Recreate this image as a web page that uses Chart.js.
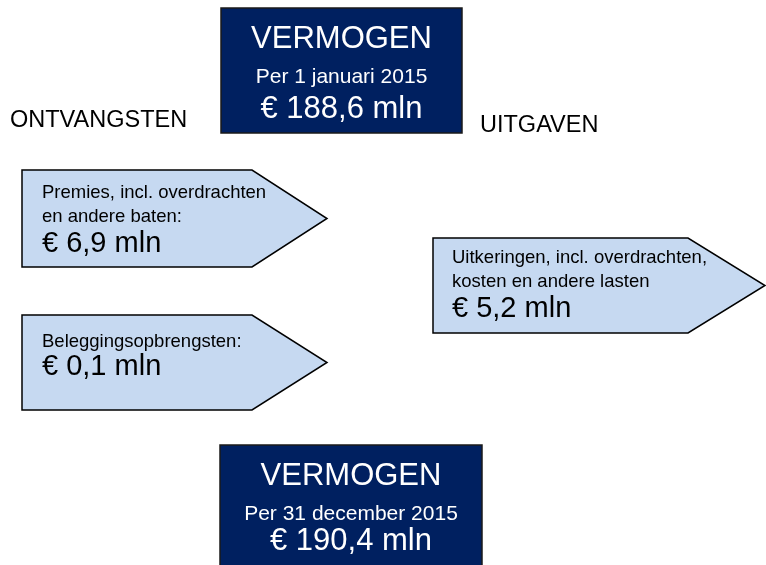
<!DOCTYPE html>
<html>
<head>
<meta charset="utf-8">
<script src="https://cdn.jsdelivr.net/npm/chart.js@4/dist/chart.umd.min.js"></script>
<style>
	html, body { margin: 0; padding: 0; background: #ffffff; }
	#wrap { width: 766px; height: 565px; position: relative; }
</style>
</head>
<body>
<div id="wrap"><canvas id="canvaVermogen"></canvas></div>
<script>
//main Data
//* Vermogen begin en eind
const vermogenTitel = "VERMOGEN";
const vermogenDatums = ["Per 1 januari 2015", "Per 31 december 2015"];
const vermogenWaarden = [188.6, 190.4];
//* Stromen (ontvangsten en uitgaven)
const stroomLabels = [
	["Premies, incl. overdrachten", "en andere baten:"],
	["Beleggingsopbrengsten:"],
	["Uitkeringen, incl. overdrachten,", "kosten en andere lasten"],
];
const stroomWaarden = [6.9, 0.1, 5.2];
//* Kopjes
const kopjes = ["ONTVANGSTEN", "UITGAVEN"];

//main Layout (in eenheden van de assen)
const vermogenBoxen = [
	{ x0: 221, x1: 462, y0: 8, y1: 133, tTitel: 48, tDatum: 83, tWaarde: 118 },
	{ x0: 220, x1: 482, y0: 445, y1: 580, tTitel: 485, tDatum: 520, tWaarde: 550 },
];
const pijlen = [
	{ x0: 22, x1: 252, tip: 327, y0: 170, y1: 267, tx: 42, regels: [198, 222], tWaarde: 252 },
	{ x0: 22, x1: 252, tip: 327, y0: 315, y1: 410, tx: 42, regels: [347], tWaarde: 375 },
	{ x0: 433, x1: 688, tip: 765, y0: 238, y1: 333, tx: 452, regels: [263, 287], tWaarde: 317 },
];
const kopjePos = [
	{ x: 10, y: 127 },
	{ x: 480, y: 132 },
];

//* Kleuren en fonts
const navy = "#002060";
const lichtBlauw = "#c6d9f1";
const fontFam = "'Liberation Sans', Arial, sans-serif";

//funcion Formatteer bedrag
const mln = (v) => "€ " + v.toFixed(1).replace(".", ",") + " mln";

//* Plugin die de vormen tekent via de schalen
const schemaPlugin = {
	id: "schema",
	afterDatasetsDraw(chart) {
		const c = chart.ctx;
		const sx = chart.scales.x;
		const sy = chart.scales.y;
		const px = (v) => sx.getPixelForValue(v);
		const py = (v) => sy.getPixelForValue(v);
		c.save();
		//* Kopjes
		c.fillStyle = "#000000";
		c.textAlign = "left";
		c.textBaseline = "alphabetic";
		c.font = "23.5px " + fontFam;
		kopjes.forEach((k, i) => {
			c.fillText(k, px(kopjePos[i].x), py(kopjePos[i].y));
		});
		//* Vermogen boxen
		vermogenBoxen.forEach((b, i) => {
			const x0 = px(b.x0), x1 = px(b.x1), y0 = py(b.y0), y1 = py(b.y1);
			c.fillStyle = navy;
			c.fillRect(x0, y0, x1 - x0, y1 - y0);
			c.strokeStyle = "#1a1a1a";
			c.lineWidth = 1.5;
			c.strokeRect(x0, y0, x1 - x0, y1 - y0);
			const cx = (x0 + x1) / 2;
			c.fillStyle = "#ffffff";
			c.textAlign = "center";
			c.font = "31px " + fontFam;
			c.fillText(vermogenTitel, cx, py(b.tTitel));
			c.font = "21px " + fontFam;
			c.fillText(vermogenDatums[i], cx, py(b.tDatum));
			c.font = "31px " + fontFam;
			c.fillText(mln(vermogenWaarden[i]), cx, py(b.tWaarde));
		});
		//* Pijlen
		pijlen.forEach((p, i) => {
			const x0 = px(p.x0), x1 = px(p.x1), tip = px(p.tip);
			const y0 = py(p.y0), y1 = py(p.y1);
			c.beginPath();
			c.moveTo(x0, y0);
			c.lineTo(x1, y0);
			c.lineTo(tip, (y0 + y1) / 2);
			c.lineTo(x1, y1);
			c.lineTo(x0, y1);
			c.closePath();
			c.fillStyle = lichtBlauw;
			c.fill();
			c.strokeStyle = "#000000";
			c.lineWidth = 1.5;
			c.stroke();
			c.fillStyle = "#000000";
			c.textAlign = "left";
			c.font = "18.5px " + fontFam;
			stroomLabels[i].forEach((r, j) => {
				c.fillText(r, px(p.tx), py(p.regels[j]));
			});
			c.font = "29px " + fontFam;
			c.fillText(mln(stroomWaarden[i]), px(p.tx), py(p.tWaarde));
		});
		c.restore();
	},
};

//* Opties voor de grafiek
const options = {
	type: "scatter",
	data: {
		datasets: [
			{
				label: "Stromen",
				data: stroomWaarden.map((v, i) => ({ x: pijlen[i].x0, y: pijlen[i].y0 })),
				pointRadius: 0,
				showLine: false,
			},
		],
	},
	options: {
		responsive: true,
		maintainAspectRatio: false,
		animation: false,
		layout: { padding: 0 },
		plugins: {
			legend: { display: false },
			tooltip: { enabled: false },
		},
		scales: {
			x: { type: "linear", min: 0, max: 766, display: false },
			y: { type: "linear", min: 0, max: 565, reverse: true, display: false },
		},
	},
	plugins: [schemaPlugin],
};

//* Dibujamos el gráfico
const ctx = document.getElementById("canvaVermogen");
const grafiek = new Chart(ctx, options);
</script>
</body>
</html>
